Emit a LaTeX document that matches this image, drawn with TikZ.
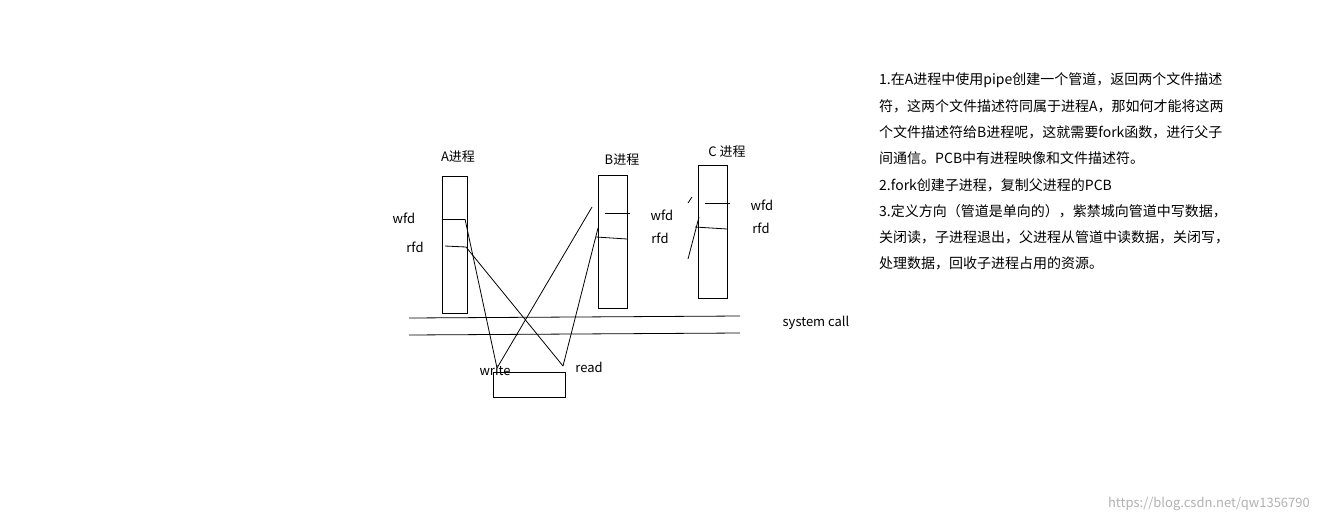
\documentclass[tikz,border=0pt]{standalone}
\usepackage{fontspec}
\setmainfont{Noto Sans CJK SC}
\begin{document}
\begin{tikzpicture}[x=1pt,y=-1pt,
  ln/.style={line width=0.8pt},
  lbl/.style={inner sep=0pt,font=\fontsize{13}{13}\selectfont},
  txt/.style={inner sep=0pt,anchor=west,font=\fontsize{14}{14}\selectfont}]
\useasboundingbox[fill=white] (0,0) rectangle (1319,523);
\draw[ln] (442,176) rectangle (467,313);
\draw[ln] (598,175) rectangle (627,308);
\draw[ln] (698,165) rectangle (727,298);
\draw[ln] (493,372) rectangle (565,397);
\draw[ln] (409,318) -- (740,316);
\draw[ln] (409,335) -- (740,333);
\coordinate (aw) at (465,219); \coordinate (ar) at (466,247);
\coordinate (wr) at (497,368); \coordinate (rd) at (563,366);
\draw[ln] (442,219) -- (aw); \draw[ln] (445,246) -- (ar);
\draw[ln] (aw) -- (wr); \draw[ln] (ar) -- (rd);
\draw[ln] (592,207) -- (wr); \draw[ln] (598,228) -- (rd);
\draw[ln] (605,213) -- (630,213); \draw[ln] (596,237) -- (627,239);
\draw[ln] (705,203) -- (730,203); \draw[ln] (695,227) -- (727,229);
\draw[ln] (688,203) -- (692,197); \draw[ln] (688,259) -- (699,217);
\node[lbl] (la) at (458,157) {A进程};
\node[lbl] (lb) at (622,160) {B进程};
\node[lbl] (lc) at (727,152) {C 进程};
\node[lbl] (w1) at (404,218) {wfd};
\node[lbl] (r1) at (415,247) {rfd};
\node[lbl] (w2) at (662,215) {wfd};
\node[lbl] (r2) at (660,238) {rfd};
\node[lbl] (w3) at (762,205) {wfd};
\node[lbl] (r3) at (761,228) {rfd};
\node[lbl] (sc) at (816,323) {system call};
\node[lbl] (wt) at (495,371) {write};
\node[lbl] (rt) at (589,367) {read};
\node[txt] (t1) at (879,80) {1.在A进程中使用pipe创建一个管道，返回两个文件描述};
\node[txt] (t2) at (879,106) {符，这两个文件描述符同属于进程A，那如何才能将这两};
\node[txt] (t3) at (879,132) {个文件描述符给B进程呢，这就需要fork函数，进行父子};
\node[txt] (t4) at (879,158) {间通信。PCB中有进程映像和文件描述符。};
\node[txt] (t5) at (879,185) {2.fork创建子进程，复制父进程的PCB};
\node[txt] (t6) at (879,211) {3.定义方向（管道是单向的），紫禁城向管道中写数据，};
\node[txt] (t7) at (879,237) {关闭读，子进程退出，父进程从管道中读数据，关闭写，};
\node[txt] (t8) at (879,263) {处理数据，回收子进程占用的资源。};
\node[inner sep=0pt,anchor=east,text=gray!60,font=\fontsize{13}{13}\selectfont] (wm) at (1310,504) {https://blog.csdn.net/qw1356790};
\end{tikzpicture}
\end{document}
